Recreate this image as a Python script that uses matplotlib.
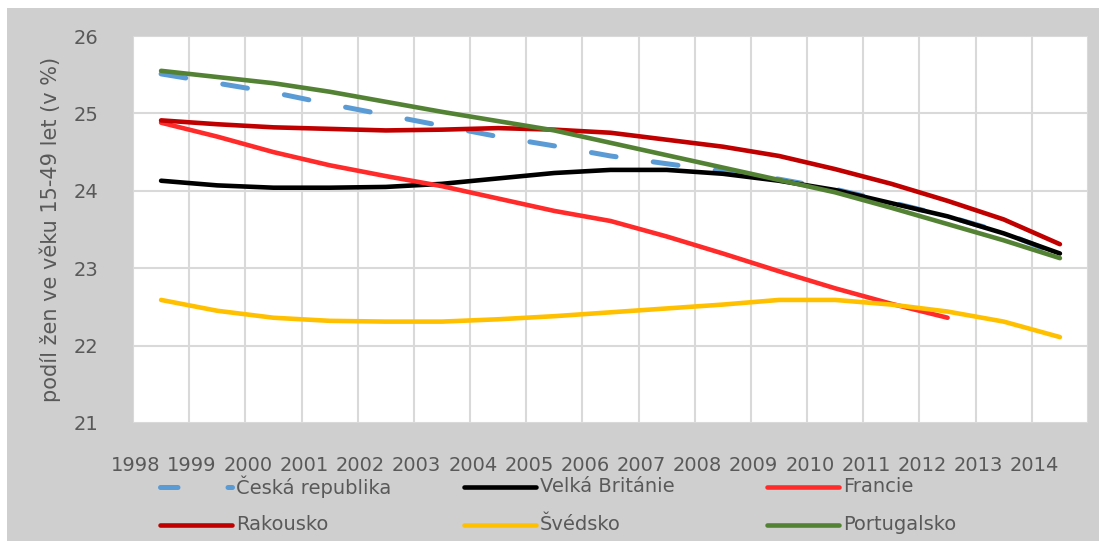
import matplotlib
matplotlib.use('Agg')
import matplotlib.pyplot as plt
import numpy as np
from matplotlib.lines import Line2D
from matplotlib.patches import Rectangle

years = list(range(1998, 2015))
cz = [25.51, 25.39, 25.27, 25.12, 24.98, 24.84, 24.70, 24.58, 24.45, 24.35,
      24.25, 24.15, 24.02, 23.85, 23.67, 23.46, 23.17]
uk = [24.13, 24.07, 24.04, 24.04, 24.05, 24.09, 24.16, 24.23, 24.27, 24.27,
      24.22, 24.13, 24.01, 23.84, 23.67, 23.45, 23.19]
fr = [24.88, 24.70, 24.50, 24.33, 24.19, 24.06, 23.90, 23.74, 23.61, 23.41,
      23.19, 22.96, 22.74, 22.54, 22.36, np.nan, np.nan]
at = [24.91, 24.86, 24.82, 24.80, 24.78, 24.79, 24.81, 24.79, 24.75, 24.66,
      24.57, 24.45, 24.28, 24.09, 23.87, 23.63, 23.31]
se = [22.59, 22.45, 22.36, 22.32, 22.31, 22.31, 22.34, 22.38, 22.43, 22.48,
      22.53, 22.59, 22.59, 22.53, 22.44, 22.31, 22.11]
pt = [25.55, 25.47, 25.39, 25.28, 25.15, 25.02, 24.90, 24.78, 24.62, 24.46,
      24.30, 24.14, 23.98, 23.78, 23.57, 23.36, 23.13]

names = ['Česká republika', 'Velká Británie', 'Francie',
         'Rakousko', 'Švédsko', 'Portugalsko']
series = [cz, uk, fr, at, se, pt]
colors = ['#5b9bd5', '#000000', '#ff2b2b', '#c00000', '#ffc000', '#548235']

txt = '#595959'
plt.rcParams['font.family'] = ['DejaVu Sans']
plt.rcParams['font.size'] = 14

W, H = 1099, 541
fig = plt.figure(figsize=(W / 100, H / 100), dpi=100)
fig.patch.set_facecolor('white')
fig.add_artist(Rectangle((7 / W, 0), 1, (H - 8) / H, transform=fig.transFigure,
                         facecolor='#d0cfcf', edgecolor='none', zorder=-10))

ax = fig.add_axes([133 / W, (H - 423) / H, (1088 - 133) / W, (423 - 36) / H])
ax.set_facecolor('white')

x = np.arange(len(years)) + 0.5
for i, (vals, c) in enumerate(zip(series, colors)):
    if i == 0:
        ax.plot(x, vals, color=c, lw=3.6, dashes=(5, 7.5),
                dash_capstyle='round', solid_capstyle='round', zorder=3)
    else:
        ax.plot(x, vals, color=c, lw=3.3, solid_capstyle='round', zorder=3 + i)

ax.set_xlim(0, len(years))
ax.set_ylim(21, 26)
ax.set_xticks(np.arange(len(years) + 1), minor=True)
ax.set_xticks(np.arange(len(years)) + 0.05)
ax.set_xticklabels([str(y) for y in years])
ax.set_yticks(range(21, 27))
ax.grid(True, which='minor', axis='x', color='#d9d9d9', lw=1.5)
ax.grid(True, which='major', axis='y', color='#d9d9d9', lw=1.5)
ax.tick_params(which='both', length=0, colors=txt)
ax.tick_params(axis='x', pad=24)
ax.tick_params(axis='y', pad=25)
for s in ax.spines.values():
    s.set_visible(False)
ax.set_ylabel('podíl žen ve věku 15-49 let (v %)', color=txt, labelpad=9,
              fontsize=15)

# legend drawn in figure pixels
cols = [160, 464, 767]
rows = [487, 525]
for k, (n, c) in enumerate(zip(names, colors)):
    x0 = cols[k % 3]
    y0 = H - rows[k // 3]
    if k == 0:
        ln = Line2D([x0 / W, (x0 + 72) / W], [y0 / H, y0 / H], color=c, lw=3.6,
                    dashes=(3.5, 10), dash_capstyle='round', transform=fig.transFigure)
    else:
        ln = Line2D([x0 / W, (x0 + 72) / W], [y0 / H, y0 / H], color=c, lw=3.3,
                    solid_capstyle='round', transform=fig.transFigure)
    fig.add_artist(ln)
    fig.text((x0 + 76) / W, y0 / H, n, color=txt, va='center', ha='left')

fig.savefig('out.png', dpi=100)
